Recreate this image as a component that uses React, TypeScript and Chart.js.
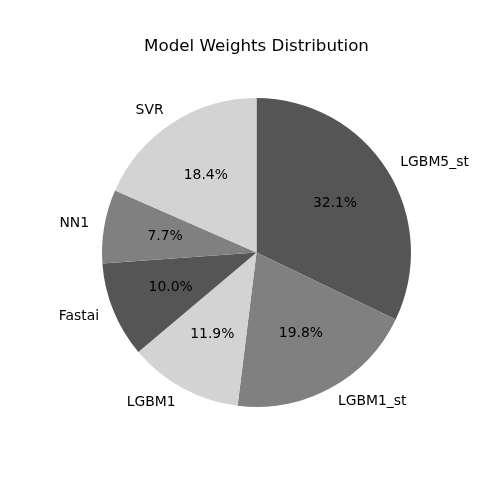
import React, { useEffect, useRef } from 'react';
import { Chart, registerables } from 'chart.js';

Chart.register(...registerables);

const labels = ['LGBM5_st', 'LGBM1_st', 'LGBM1', 'Fastai', 'NN1', 'SVR'];
const weights = [32.1, 19.8, 11.9, 10.0, 7.7, 18.4];
const colors = ['#555555', '#808080', '#d3d3d3', '#555555', '#808080', '#d3d3d3'];

const FONT = "'DejaVu Sans', sans-serif";

// draws matplotlib-style outer labels and inner percentages
const pieText = {
  id: 'pieText',
  afterDatasetsDraw(chart: any) {
    const { ctx } = chart;
    const meta = chart.getDatasetMeta(0);
    const total = weights.reduce((a, b) => a + b, 0);
    ctx.save();
    ctx.fillStyle = '#000';
    ctx.font = `13.9px ${FONT}`;
    ctx.textBaseline = 'middle';
    meta.data.forEach((arc: any, i: number) => {
      const { x, y, startAngle, endAngle, outerRadius } = arc.getProps(
        ['x', 'y', 'startAngle', 'endAngle', 'outerRadius'],
        true
      );
      const mid = (startAngle + endAngle) / 2;
      const cx = Math.cos(mid);
      const cy = Math.sin(mid);
      ctx.textAlign = cx >= 0 ? 'left' : 'right';
      ctx.fillText(labels[i], x + cx * outerRadius * 1.1, y + cy * outerRadius * 1.1);
      ctx.textAlign = 'center';
      const pct = ((weights[i] / total) * 100).toFixed(1) + '%';
      ctx.fillText(pct, x + cx * outerRadius * 0.6, y + cy * outerRadius * 0.6);
    });
    ctx.restore();
  },
};

const App: React.FC = () => {
  const canvasRef = useRef<HTMLCanvasElement | null>(null);

  useEffect(() => {
    document.body.style.margin = '0';
    if (!canvasRef.current) return;
    const ctx = canvasRef.current.getContext('2d');
    if (!ctx) return;

    const chart = new Chart(ctx, {
      type: 'pie',
      data: {
        labels,
        datasets: [
          {
            data: weights,
            backgroundColor: colors,
            borderWidth: 0,
          },
        ],
      },
      options: {
        responsive: false,
        animation: false,
        layout: { padding: { left: 102, right: 89, top: 0, bottom: 93 } },
        plugins: {
          legend: { display: false },
          tooltip: { enabled: false },
          title: {
            display: true,
            text: 'Model Weights Distribution',
            color: '#000',
            font: { family: FONT, size: 16.7, weight: 'normal' },
            padding: { top: 37, bottom: 41 },
          },
        },
      },
      plugins: [pieText],
    });

    return () => {
      chart.destroy();
    };
  }, []);

  return (
    <div style={{ width: 500, height: 500, background: '#fff' }}>
      <canvas ref={canvasRef} width={500} height={500} style={{ width: 500, height: 500 }} />
    </div>
  );
};

export default App;
